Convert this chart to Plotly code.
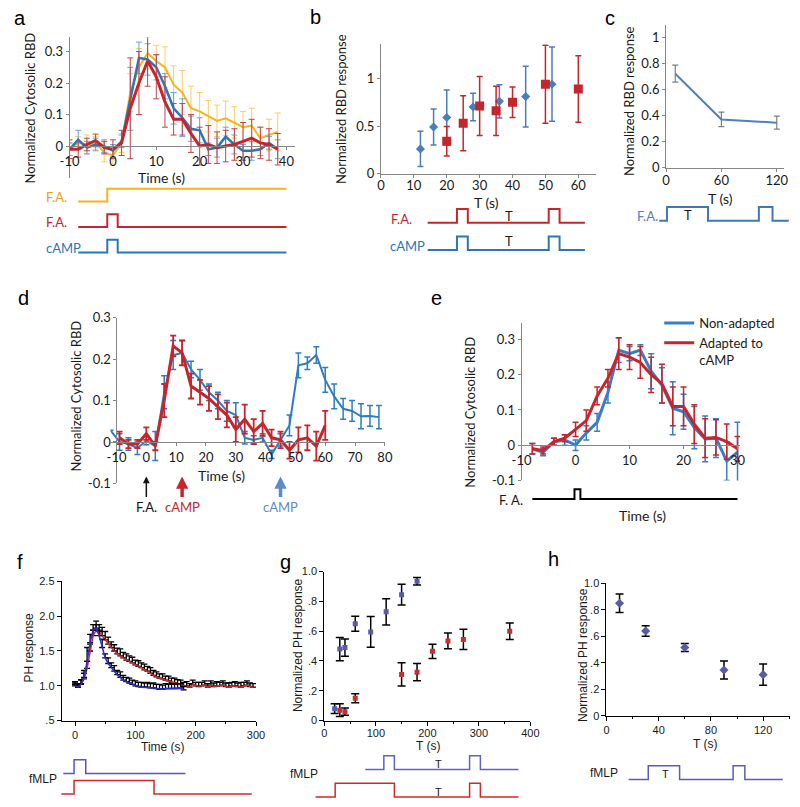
import plotly.graph_objects as go

W, H = 800, 807
TOP = "Lato"
BOT = "Liberation Sans"
GREY = "#868686"
INK = "#1a1a1a"

# ---------------- data ----------------
# a: normalized cytosolic RBD, three stimulation protocols
a_t = [-10, -8, -6, -4, -2, 0, 2, 4, 6, 8, 10, 12, 14, 16, 18, 20, 22, 24, 26, 28, 30, 32, 34, 36, 38]
a_yel = [-0.01, 0.01, 0.005, 0.01, -0.02, -0.03, 0.01, 0.17, 0.25, 0.295, 0.27, 0.25, 0.195, 0.17, 0.12,
         0.11, 0.095, 0.08, 0.088, 0.075, 0.06, 0.065, 0.025, 0.035, 0.045]
a_yel_err = [0.02, 0.02, 0.03, 0.02, 0.03, 0.03, 0.03, 0.06, 0.06, 0.05, 0.05, 0.065, 0.06, 0.07, 0.07,
             0.06, 0.05, 0.05, 0.055, 0.05, 0.05, 0.055, 0.035, 0.05, 0.06]
a_blue = [-0.01, 0.02, -0.005, 0.005, 0.0, -0.015, 0.015, 0.15, 0.28, 0.275, 0.25, 0.19, 0.12, 0.09, 0.055,
          0.05, -0.01, -0.005, 0.03, 0.005, -0.015, -0.015, -0.01, 0.01, -0.01]
a_blue_err = [0.02, 0.03, 0.02, 0.02, 0.02, 0.02, 0.02, 0.1, 0.05, 0.05, 0.04, 0.04, 0.05, 0.06, 0.04,
              0.04, 0.02, 0.03, 0.03, 0.03, 0.02, 0.03, 0.02, 0.02, 0.03]
a_red = [-0.01, -0.01, 0.005, 0.018, -0.005, -0.01, 0.01, 0.12, 0.2, 0.27, 0.22, 0.14, 0.085, 0.085, 0.04,
         0.0, 0.005, -0.005, 0.0, 0.005, 0.015, 0.025, 0.01, 0.005, -0.01]
a_red_err = [0.03, 0.025, 0.02, 0.02, 0.02, 0.03, 0.04, 0.16, 0.1, 0.08, 0.07, 0.08, 0.05, 0.05, 0.06,
             0.06, 0.06, 0.05, 0.05, 0.05, 0.06, 0.06, 0.05, 0.05, 0.05]
a_stim_step_t = [-8, -1.3, 40]
a_stim_step_on = [0, 1, 1]
a_stim_pulse_t = [-8, -1.3, 1.1, 40]
a_stim_pulse_on = [0, 1, 0, 0]

# b: RBD response vs interval T
b_blue_T = [12, 16, 20, 28, 36, 44, 52]
b_blue = [0.26, 0.49, 0.59, 0.70, 0.76, 0.81, 0.94]
b_blue_err = [0.185, 0.19, 0.29, 0.145, 0.175, 0.32, 0.39]
b_red_T = [20, 25, 30, 35, 40, 50, 60]
b_red = [0.34, 0.53, 0.71, 0.66, 0.75, 0.94, 0.89]
b_red_err = [0.155, 0.29, 0.31, 0.26, 0.16, 0.41, 0.35]
b_stim_t = [14.2, 23.1, 26.4, 51, 54.3, 62]
b_stim_on = [0, 1, 0, 1, 0, 0]

# c
c_T = [10, 60, 120]
c_val = [0.72, 0.37, 0.345]
c_err = [0.065, 0.055, 0.05]
c_stim_t = [-7.4, 1, 45.5, 100.6, 115.4, 133]
c_stim_on = [0, 1, 0, 1, 0, 0]

# d
d_blue_t = [-12, -9, -6, -3, 0, 3, 6, 9, 12, 15, 18, 21, 24, 27, 30, 33, 36, 39, 42, 45, 48, 51, 54, 57,
            60, 63, 66, 69, 72, 75, 78]
d_blue = [0.028, 0.0, -0.005, -0.015, 0.003, -0.01, 0.12, 0.21, 0.215, 0.175, 0.15, 0.12, 0.10, 0.075,
          0.065, 0.01, 0.005, 0.01, -0.03, 0.005, 0.04, 0.185, 0.19, 0.21, 0.15, 0.11, 0.08, 0.075,
          0.062, 0.063, 0.06]
d_blue_err = [0, 0.02, 0.015, 0.015, 0.01, 0.035, 0.04, 0.035, 0.03, 0.02, 0.025, 0.02, 0.02, 0.025,
              0.03, 0.015, 0.01, 0.01, 0.01, 0.015, 0.025, 0.03, 0.015, 0.02, 0.03, 0.03, 0.025, 0.025,
              0.03, 0.025, 0.028]
d_red_t = [-9, -6, -3, 0, 3, 6, 9, 12, 15, 18, 21, 24, 27, 30, 33, 36, 39, 42, 45, 48, 51, 54, 57, 60]
d_red = [0.01, -0.005, -0.005, 0.02, -0.01, 0.1, 0.232, 0.215, 0.135, 0.12, 0.105, 0.085, 0.065, 0.03,
         0.055, 0.025, 0.045, 0.01, 0.005, -0.02, 0.005, 0.01, -0.01, 0.04]
d_red_err = [0.015, 0.01, 0.01, 0.015, 0.01, 0.04, 0.025, 0.03, 0.03, 0.03, 0.03, 0.03, 0.03, 0.03,
             0.035, 0.03, 0.03, 0.02, 0.02, 0.02, 0.03, 0.03, 0.035, 0.035]
d_arrow_t = [0, 12, 45]
d_arrow_lbl = ["F.A.", "cAMP", "cAMP"]

# e
e_t = [-8, -6, -4, -2, 0, 2, 4, 6, 8, 10, 12, 14, 16, 18, 20, 22, 24, 26, 28, 30]
e_blue = [-0.01, -0.02, 0.01, 0.015, 0.0, 0.035, 0.065, 0.15, 0.27, 0.26, 0.27, 0.21, 0.17, 0.105,
          0.095, 0.05, 0.018, 0.02, -0.045, -0.02]
e_blue_err = [0.015, 0.01, 0.01, 0.015, 0.015, 0.02, 0.025, 0.03, 0.035, 0.02, 0.015, 0.05, 0.05, 0.075,
              0.05, 0.06, 0.065, 0.055, 0.055, 0.085]
e_red = [-0.01, -0.015, 0.01, 0.02, 0.045, 0.07, 0.14, 0.19, 0.26, 0.25, 0.235, 0.2, 0.175, 0.11, 0.11,
         0.06, 0.02, 0.022, 0.01, -0.01]
e_red_err = [0.015, 0.01, 0.01, 0.01, 0.02, 0.03, 0.025, 0.025, 0.045, 0.035, 0.045, 0.05, 0.055, 0.055,
             0.055, 0.055, 0.055, 0.05, 0.05, 0.035]
e_stim_t = [-8, -0.2, 0.9, 30]
e_stim_on = [0, 1, 0, 0]

# f: PH response (upper SEM only)
f_blue_t = list(range(0, 185, 5))
f_blue = [1.0, 0.98, 1.02, 1.12, 1.35, 1.62, 1.80, 1.83, 1.72, 1.55, 1.40, 1.32, 1.26, 1.21, 1.16, 1.12,
          1.08, 1.06, 1.04, 1.02, 1.0, 0.99, 0.98, 0.98, 0.98, 0.97, 0.97, 0.96, 0.95, 0.95, 0.96, 0.96,
          0.96, 0.96, 0.96, 0.97, 0.94]
f_blue_err = [0.04, 0.05, 0.06, 0.1, 0.2, 0.12, 0.08, 0.1, 0.08, 0.12, 0.06, 0.08, 0.07, 0.08, 0.06, 0.08,
              0.07, 0.06, 0.07, 0.06, 0.07, 0.06, 0.07, 0.06, 0.07, 0.06, 0.07, 0.06, 0.07, 0.06, 0.07,
              0.06, 0.07, 0.06, 0.07, 0.06, 0.05]
f_red_t = list(range(0, 300, 5))
f_red = [1.02, 0.98, 1.03, 1.1, 1.25, 1.5, 1.72, 1.8, 1.78, 1.72, 1.66, 1.60, 1.55, 1.50, 1.46, 1.43,
         1.40, 1.37, 1.35, 1.33, 1.30, 1.28, 1.26, 1.23, 1.21, 1.18, 1.15, 1.13, 1.11, 1.10, 1.08, 1.07,
         1.05, 1.04, 1.03, 1.02, 1.0, 1.0, 0.98, 1.02, 1.0, 0.99, 1.0, 1.01, 0.98, 1.01, 0.99, 1.0, 1.0,
         1.01, 0.99, 0.98, 1.0, 1.0, 0.99, 0.98, 1.0, 1.01, 0.99, 0.98]
f_red_err = [0.04, 0.05, 0.06, 0.08, 0.1, 0.1, 0.08, 0.08, 0.1, 0.12, 0.12, 0.1, 0.08, 0.09, 0.08, 0.1,
             0.08, 0.09, 0.08, 0.08, 0.07, 0.08, 0.07, 0.08, 0.07, 0.08, 0.07, 0.07, 0.06, 0.07, 0.06,
             0.07, 0.06, 0.07, 0.06, 0.06, 0.05, 0.06, 0.05, 0.06, 0.05, 0.06, 0.05, 0.06, 0.05, 0.06,
             0.05, 0.06, 0.05, 0.06, 0.05, 0.06, 0.05, 0.06, 0.05, 0.07, 0.05, 0.06, 0.05, 0.05]
f_stim_blue_t = [-19.4, -1.6, 17.8, 183]
f_stim_blue_on = [0, 1, 0, 0]
f_stim_red_t = [-22.7, -1.6, 131, 293]
f_stim_red_on = [0, 1, 0, 0]

# g
g_blue_T = [20, 30, 40, 60, 90, 120, 150, 180]
g_blue = [0.08, 0.48, 0.49, 0.65, 0.595, 0.73, 0.845, 0.935]
g_blue_err = [0.033, 0.078, 0.058, 0.05, 0.103, 0.088, 0.07, 0.025]
g_red_T = [30, 40, 60, 150, 180, 210, 240, 270, 360]
g_red = [0.07, 0.06, 0.15, 0.31, 0.325, 0.465, 0.535, 0.545, 0.60]
g_red_err = [0.043, 0.025, 0.03, 0.078, 0.058, 0.048, 0.053, 0.068, 0.055]
g_stim_blue_t = [79.5, 115.5, 136, 282, 303, 377]
g_stim_blue_on = [0, 1, 0, 1, 0, 0]
g_stim_red_t = [-17, 21, 136, 282, 303, 377]
g_stim_red_on = [0, 1, 0, 1, 0, 0]

# h
h_T = [10, 30, 60, 90, 120]
h_val = [0.85, 0.64, 0.515, 0.345, 0.31]
h_err = [0.07, 0.04, 0.03, 0.068, 0.08]
h_stim_t = [17, 32, 56, 97, 106, 135]
h_stim_on = [0, 1, 0, 1, 0, 0]

# ---------------- helpers ----------------
layout = {}
count = [0]


def new_axes(xpx, xrange, ypx, yrange, xs=None, ys=None):
    count[0] += 1
    s = "" if count[0] == 1 else str(count[0])
    xa = dict(domain=[xpx[0] / W, xpx[1] / W], range=xrange, anchor="y" + s,
              showgrid=False, zeroline=False)
    ya = dict(domain=[1 - ypx[1] / H, 1 - ypx[0] / H], range=yrange, anchor="x" + s,
              showgrid=False, zeroline=False)
    xa.update(xs or {})
    ya.update(ys or {})
    layout["xaxis" + s] = xa
    layout["yaxis" + s] = ya
    return "x" + s, "y" + s


def rescale(px_main, rng_main, px_new):
    k = (rng_main[1] - rng_main[0]) / (px_main[1] - px_main[0])
    return [rng_main[0] + (p - px_main[0]) * k for p in px_new]


def hidden():
    return dict(visible=False, fixedrange=True)


def excel(**kw):
    d = dict(showline=True, linecolor=GREY, linewidth=1, ticks="outside", ticklen=3, tickcolor=GREY,
             tickfont=dict(family=TOP, size=13, color=INK))
    d.update(kw)
    return d


def sigma(**kw):
    d = dict(showline=True, linecolor="black", linewidth=1, ticks="outside", ticklen=4, tickcolor="black",
             tickfont=dict(family=BOT, size=11, color=INK))
    d.update(kw)
    return d


annots = []


def text(px, py, s, family=TOP, size=13, color=INK, xanchor="center", angle=0):
    annots.append(dict(x=px / W, y=1 - py / H, xref="paper", yref="paper", text=s, showarrow=False,
                       xanchor=xanchor, yanchor="middle", textangle=angle,
                       font=dict(family=family, size=size, color=color)))


fig = go.Figure()


def line(xa, ya, x, y, color, width, err=None, errc=None, up_only=False, name=None, cap=3, ethick=1,
         mode="lines", marker=None, shape="linear"):
    kw = {}
    if err is not None:
        e = dict(type="data", array=err, color=errc or color, thickness=ethick, width=cap)
        if up_only:
            e.update(symmetric=False, arrayminus=[0] * len(err))
        kw["error_y"] = e
    if marker:
        kw["marker"] = marker
    fig.add_trace(go.Scatter(x=x, y=y, xaxis=xa, yaxis=ya, mode=mode,
                             line=dict(color=color, width=width, shape=shape),
                             name=name or "", showlegend=name is not None, **kw))


def stim(xa, ya, t, on, base, color, width=2):
    line(xa, ya, t, [base + v for v in on], color, width, shape="hv")


# colours
YEL = "#F5B41E"
RED = "#C4262E"
BLU = "#2A77B8"
XBLU = "#4A7EBB"
SBLU = "#2B2BD4"
SRED = "#D42828"
PBLU = "#5A5AAA"

# ---------------- panel a ----------------
a_px, a_rng = [61, 292], [-10, 42]
xa, ya = new_axes(a_px, a_rng, [30, 173], [-0.1, 0.345],
                  xs=excel(anchor="free", position=1 - 141 / H, tickvals=[-10, 0, 10, 20, 30, 40],
                           ticktext=["-10", "0", "10", "20", "30", "40"]),
                  ys=excel(tickvals=[0, 0.1, 0.2, 0.3], ticktext=["0", "0.1", "0.2", "0.3"]))
line(xa, ya, a_t, a_yel, YEL, 2, a_yel_err, "#F8CD6A")
line(xa, ya, a_t, a_blue, BLU, 2.5, a_blue_err, "#6FA3D2")
line(xa, ya, a_t, a_red, RED, 3, a_red_err, "#C84048")
text(20, 102, "Normalized Cytosolic RBD", angle=-90)
text(155, 173, "Time (s)", size=14)
xs_, ys_ = new_axes(a_px, a_rng, [178, 256], [0, 6], xs=hidden(), ys=hidden())
stim(xs_, ys_, a_stim_step_t, a_stim_step_on, 4.5, YEL)
stim(xs_, ys_, a_stim_pulse_t, a_stim_pulse_on, 2.5, RED)
stim(xs_, ys_, a_stim_pulse_t, a_stim_pulse_on, 0.5, BLU)
text(35, 193, "F.A.", color="#E8A317", xanchor="left")
text(35, 218, "F.A.", color=RED, xanchor="left")
text(35, 245, "cAMP", color=BLU, xanchor="left")

# ---------------- panel b ----------------
b_px, b_rng = [380, 600], [0, 65.3]
xa, ya = new_axes(b_px, b_rng, [37, 169], [0, 1.36],
                  xs=excel(tickvals=[0, 10, 20, 30, 40, 50, 60], ticklabelstandoff=-3),
                  ys=excel(tickvals=[0, 0.5, 1], ticktext=["0", "0.5", "1"]))
line(xa, ya, b_blue_T, b_blue, XBLU, 1, b_blue_err, XBLU, mode="markers", ethick=1.5,
     marker=dict(symbol="diamond", size=7, color=XBLU))
line(xa, ya, b_red_T, b_red, RED, 1, b_red_err, RED, mode="markers", ethick=1.5,
     marker=dict(symbol="square", size=9, color=RED))
text(339, 103, "Normalized RBD response", angle=-90)
text(488, 198, "T (s)", size=14)
xs_, ys_ = new_axes(b_px, b_rng, [198, 254], [0, 4], xs=hidden(), ys=hidden())
stim(xs_, ys_, b_stim_t, b_stim_on, 2.5, RED)
stim(xs_, ys_, b_stim_t, b_stim_on, 0.5, BLU)
text(388, 215, "F.A.", color=RED, xanchor="left")
text(387, 243, "cAMP", color=BLU, xanchor="left")
text(511, 212, "T")
text(511, 238, "T")

# ---------------- panel c ----------------
c_px, c_rng = [672, 793], [0, 128]
xa, ya = new_axes(c_px, c_rng, [17, 163], [0, 1.095],
                  xs=excel(tickvals=[0, 60, 120], ticklabelstandoff=-2),
                  ys=excel(tickvals=[0, 0.2, 0.4, 0.6, 0.8, 1], ticktext=["0", "0.2", "0.4", "0.6", "0.8", "1"]))
line(xa, ya, c_T, c_val, "#4F81BD", 2, c_err, "#7F7F7F", cap=3, ethick=1.2)
text(634, 95, "Normalized RBD response", angle=-90)
text(728, 194, "T (s)", size=14)
cs_px = [660, 800]
xs_, ys_ = new_axes(cs_px, rescale(c_px, c_rng, cs_px), [196, 224], [0, 2], xs=hidden(), ys=hidden())
stim(xs_, ys_, c_stim_t, c_stim_on, 0.5, "#3F78BA")
text(640, 212, "F.A.", color="#4F81BD", xanchor="left")
text(694, 211, "T")

# ---------------- panel d ----------------
xa, ya = new_axes([103, 384], [-12, 80], [316, 485], [-0.1, 0.3],
                  xs=excel(anchor="free", position=1 - 443 / H, tickvals=list(range(-10, 90, 10)),
                           ticktext=[str(v) for v in range(-10, 90, 10)], showline=True),
                  ys=excel(anchor="free", position=109 / W, tickvals=[-0.1, 0, 0.1, 0.2, 0.3],
                           ticktext=["-0.1", "0", "0.1", "0.2", "0.3"]))
line(xa, ya, d_blue_t, d_blue, "#2E7DC0", 2, d_blue_err, "#2E7DC0", ethick=1.5)
line(xa, ya, d_red_t, d_red, "#C8242B", 3, d_red_err, "#C8242B", ethick=1.8)
text(68, 396, "Normalized Cytosolic RBD", angle=-90)
text(217, 477, "Time (s)", size=14)
for t, lbl, col, wd in zip(d_arrow_t, d_arrow_lbl, ["#111111", "#C8242B", "#5B8CC8"], [1.5, 3.5, 3.5]):
    annots.append(dict(x=t, y=1 - 478 / H, xref=xa, yref="paper", ax=0, ay=30, axref="pixel",
                       ayref="pixel", text=lbl, showarrow=True, arrowhead=2, arrowsize=0.9 if wd < 2 else 0.7,
                       arrowwidth=wd, arrowcolor=col, font=dict(family=TOP, size=13, color=col)))

# ---------------- panel e ----------------
e_px, e_rng = [524, 748], [-10, 30.5]
xa, ya = new_axes(e_px, e_rng, [321, 482], [-0.1, 0.348],
                  xs=excel(anchor="free", position=1 - 446 / H, tickvals=[-10, 0, 10, 20, 30],
                           ticktext=["-10", "0", "10", "20", "30"]),
                  ys=excel(tickvals=[-0.1, 0, 0.1, 0.2, 0.3], ticktext=["-0.1", "0", "0.1", "0.2", "0.3"]))
line(xa, ya, e_t, e_blue, "#3B7DC4", 3, e_blue_err, "#3B7DC4", ethick=1.5, name="Non-adapted")
line(xa, ya, e_t, e_red, "#C8242B", 3, e_red_err, "#C8242B", ethick=1.5, name="Adapted to<br>cAMP")
text(471, 412, "Normalized Cytosolic RBD", angle=-90)
text(648, 518, "Time (s)", size=14)
xs_, ys_ = new_axes(e_px, e_rng, [486, 506], [0, 2], xs=hidden(), ys=hidden())
stim(xs_, ys_, e_stim_t, e_stim_on, 0.5, "black")
text(499, 502, "F. A.", xanchor="left")

# ---------------- panel f ----------------
f_px, f_rng = [53, 252], [-22, 300]
xa, ya = new_axes(f_px, f_rng, [585, 727], [0.5, 2.5],
                  xs=sigma(tickvals=[0, 100, 200, 300], minor=dict(ticks="outside", ticklen=2, dtick=50,
                                                                   tick0=0, tickcolor="black")),
                  ys=sigma(tickvals=[0.5, 1, 1.5, 2, 2.5], ticktext=[".5", "1.0", "1.5", "2.0", "2.5"]))
line(xa, ya, f_red_t, f_red, SRED, 1.5, f_red_err, "black", up_only=True, cap=3, ethick=1.3)
line(xa, ya, f_blue_t, f_blue, SBLU, 1.5, f_blue_err, "black", up_only=True, cap=3, ethick=1.3)
text(20, 653, "PH response", family=BOT, size=12, angle=-90)
text(157, 754, "Time (s)", family=BOT, size=12)
fs_px = [45, 255]
xs_, ys_ = new_axes(fs_px, rescale(f_px, f_rng, fs_px), [753, 807], [0.143, 4.0], xs=hidden(), ys=hidden())
stim(xs_, ys_, f_stim_blue_t, f_stim_blue_on, 2.0, "#5555CC", 1.5)
stim(xs_, ys_, f_stim_red_t, f_stim_red_on, 0.5, SRED, 1.5)
text(17, 787, "fMLP", family=BOT, size=12, xanchor="left")

# ---------------- panel g ----------------
g_px, g_rng = [322, 533], [0, 400]
xa, ya = new_axes(g_px, g_rng, [575, 727], [0, 1.0],
                  xs=sigma(tickvals=[0, 100, 200, 300, 400], ticklabelstandoff=-2,
                           minor=dict(ticks="outside", ticklen=2, dtick=50, tick0=0, tickcolor="black")),
                  ys=sigma(tickvals=[0, 0.2, 0.4, 0.6, 0.8, 1.0], ticktext=["0", ".2", ".4", ".6", ".8", "1.0"]))
line(xa, ya, g_blue_T, g_blue, PBLU, 1, g_blue_err, "black", mode="markers", cap=4, ethick=1.5,
     marker=dict(symbol="square", size=5, color=PBLU))
line(xa, ya, g_red_T, g_red, "#C03232", 1, g_red_err, "black", mode="markers", cap=4, ethick=1.5,
     marker=dict(symbol="square", size=5, color="#C03232"))
text(295, 650, "Normalized PH response", family=BOT, size=12, angle=-90)
text(428, 753, "T (s)", family=BOT, size=12)
gs_px = [300, 535]
xs_, ys_ = new_axes(gs_px, rescale(g_px, g_rng, gs_px), [751, 807], [-0.15, 3.85], xs=hidden(), ys=hidden())
stim(xs_, ys_, g_stim_blue_t, g_stim_blue_on, 2, "#6262C4", 1.5)
stim(xs_, ys_, g_stim_red_t, g_stim_red_on, 0, SRED, 1.5)
text(285, 781, "fMLP", family=BOT, size=12, xanchor="left")
text(439, 771, "T", family=BOT, size=11)
text(439, 800, "T", family=BOT, size=11)

# ---------------- panel h ----------------
h_px, h_rng = [611, 799], [0, 140.6]
xa, ya = new_axes(h_px, h_rng, [587, 722], [0, 1.0],
                  xs=sigma(tickvals=[0, 40, 80, 120], minor=dict(ticks="outside", ticklen=2, dtick=20,
                                                                 tick0=0, tickcolor="black")),
                  ys=sigma(tickvals=[0, 0.2, 0.4, 0.6, 0.8, 1.0], ticktext=["0", ".2", ".4", ".6", ".8", "1.0"]))
line(xa, ya, h_T, h_val, PBLU, 1, h_err, "black", mode="markers", cap=4, ethick=1.5,
     marker=dict(symbol="diamond", size=7, color=PBLU))
text(587, 660, "Normalized PH response", family=BOT, size=12, angle=-90)
text(712, 751, "T (s)", family=BOT, size=12)
xs_, ys_ = new_axes(h_px, h_rng, [766, 794], [0, 2], xs=hidden(), ys=hidden())
stim(xs_, ys_, h_stim_t, h_stim_on, 0.5, "#5A5AC0", 1.5)
text(592, 780, "fMLP", family=BOT, size=12, xanchor="left")
text(671, 781, "T", family=BOT, size=11)

# panel letters
for lbl, px, py in [("a", 10, 10), ("b", 313, 9), ("c", 615, 10), ("d", 14, 296), ("e", 437, 296),
                    ("f", 10, 565), ("g", 282, 565), ("h", 557, 562)]:
    text(px, py, lbl, family=BOT, size=20, color="black")

layout.update(
    width=W, height=H, autosize=False,
    margin=dict(l=0, r=0, t=0, b=0),
    paper_bgcolor="white", plot_bgcolor="white",
    showlegend=True,
    legend=dict(x=665 / W, y=1 - 306 / H, xanchor="left", yanchor="top", bgcolor="rgba(0,0,0,0)",
                font=dict(family=TOP, size=13, color=INK), valign="top", tracegroupgap=8,
                itemwidth=30),
    annotations=annots,
)
fig.update_layout(**layout)
# the page's default 8px body margin would push the whole figure off its layout grid
fig.write_html("out.html", config={"displayModeBar": False},
               post_script="document.body.style.margin='0px';")
